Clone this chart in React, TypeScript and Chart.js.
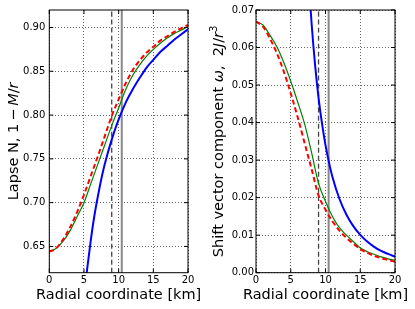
import React, { useEffect, useRef } from "react";
import { Chart, registerables } from "chart.js";

Chart.register(...registerables);

// ---------- data ----------
const radius = [0, 1, 2, 3, 4, 5, 6, 7, 8, 9, 10, 11, 12, 13, 14, 15, 16, 17, 18, 19, 20];
const lapseNumeric = [0.644, 0.648, 0.656, 0.668, 0.684, 0.7, 0.722, 0.744, 0.766, 0.788, 0.808, 0.829, 0.845, 0.857, 0.867, 0.875, 0.882, 0.888, 0.893, 0.897, 0.901];
const lapseApprox = [0.644, 0.648, 0.658, 0.672, 0.689, 0.709, 0.731, 0.753, 0.776, 0.799, 0.818, 0.836, 0.851, 0.862, 0.871, 0.878, 0.885, 0.89, 0.895, 0.899, 0.903];
const exteriorLapseRadius = [5.25, 5.5, 6, 6.5, 7, 7.5, 8, 9, 10, 11, 12, 13, 14, 15, 16, 17, 18, 19, 20];
const exteriorLapse = [0.61, 0.627, 0.658, 0.685, 0.707, 0.727, 0.744, 0.772, 0.795, 0.814, 0.829, 0.842, 0.854, 0.863, 0.872, 0.879, 0.886, 0.892, 0.898];

const shiftNumeric = [0.0669, 0.066, 0.0633, 0.0602, 0.056, 0.051, 0.0455, 0.0396, 0.032, 0.0238, 0.019, 0.015, 0.012, 0.01, 0.0083, 0.0066, 0.0056, 0.0049, 0.0042, 0.0037, 0.0033];
const shiftApprox = [0.0669, 0.0656, 0.0624, 0.0585, 0.0536, 0.0478, 0.0414, 0.0345, 0.0276, 0.0206, 0.0168, 0.0137, 0.0112, 0.0093, 0.0077, 0.0063, 0.0053, 0.0045, 0.0039, 0.0034, 0.0029];
const exteriorShiftRadius = [7.7, 8, 8.5, 9, 9.5, 10, 10.5, 11, 12, 13, 14, 15, 16, 17, 18, 19, 20];
const exteriorShift = [0.0745, 0.0664, 0.0554, 0.0466, 0.0397, 0.034, 0.0294, 0.0255, 0.0197, 0.0155, 0.0124, 0.0101, 0.0083, 0.0069, 0.0058, 0.005, 0.0043];

const dashedMarker = 9.0;
const solidMarker = 10.45;

const radiusRange = [0, 20];
const lapseRange = [0.62, 0.92];
const shiftRange = [0, 0.07];
const radiusTicks = [0, 5, 10, 15, 20];
const lapseTicks = [0.65, 0.7, 0.75, 0.8, 0.85, 0.9];
const shiftTicks = [0, 0.01, 0.02, 0.03, 0.04, 0.05, 0.06, 0.07];

const xTitle = "Radial coordinate [km]";
type Seg = { text: string; italic?: boolean; sup?: boolean };
const lapseTitle: Seg[] = [
  { text: "Lapse N, " },
  { text: "1\u2009\u2212\u2009" },
  { text: "M", italic: true },
  { text: "/" },
  { text: "r", italic: true },
];
const shiftTitle: Seg[] = [
  { text: "Shift vector component " },
  { text: "\u03c9", italic: true },
  { text: ",  2" },
  { text: "J", italic: true },
  { text: "/" },
  { text: "r", italic: true },
  { text: "3", sup: true },
];

const FONT = '"DejaVu Sans"';

const paperPlugin = {
  id: "paper",
  afterDraw(chart: any, _args: any, opts: any) {
    const { ctx, chartArea } = chart;
    const { left, right, top, bottom } = chartArea;
    const xs = chart.scales.x;
    const ys = chart.scales.y;
    ctx.save();
    // frame
    ctx.strokeStyle = "#000";
    ctx.lineWidth = 1;
    ctx.strokeRect(left, top, right - left, bottom - top);
    // inward ticks on all sides
    ctx.beginPath();
    for (const t of xs.ticks) {
      const px = xs.getPixelForValue(t.value);
      ctx.moveTo(px, bottom);
      ctx.lineTo(px, bottom - 4);
      ctx.moveTo(px, top);
      ctx.lineTo(px, top + 4);
    }
    for (const t of ys.ticks) {
      const py = ys.getPixelForValue(t.value);
      ctx.moveTo(left, py);
      ctx.lineTo(left + 4, py);
      ctx.moveTo(right, py);
      ctx.lineTo(right - 4, py);
    }
    ctx.stroke();

    const size = opts.titleSize || 14.5;
    ctx.fillStyle = "#000";
    ctx.textBaseline = "alphabetic";
    // x title
    ctx.font = `${size}px ${FONT}`;
    ctx.textAlign = "center";
    ctx.fillText(opts.xTitle, (left + right) / 2, opts.xTitleY);
    // y title (rotated, mixed fonts)
    ctx.textAlign = "left";
    const segs: Seg[] = opts.yTitle;
    const fonts = segs.map((s) => {
      const f = `${s.italic ? "italic " : ""}${s.sup ? size * 0.7 : size}px ${FONT}`;
      ctx.font = f;
      return { f, w: ctx.measureText(s.text).width };
    });
    const total = fonts.reduce((a, b) => a + b.w, 0);
    ctx.translate(opts.yTitleX, (top + bottom) / 2);
    ctx.rotate(-Math.PI / 2);
    let x = -total / 2;
    segs.forEach((s, i) => {
      ctx.font = fonts[i].f;
      ctx.fillText(s.text, x, s.sup ? -size * 0.38 : 0);
      x += fonts[i].w;
    });
    ctx.restore();
  },
};

function pts(xs: number[], ys: number[]) {
  return xs.map((x, i) => ({ x, y: ys[i] }));
}

function buildConfig(p: {
  numeric: number[];
  approx: number[];
  extR: number[];
  ext: number[];
  yRange: number[];
  yTicks: number[];
  yTitle: Seg[];
  axisLeft: number;
  padRight: number;
  labelPad: number;
}) {
  const tickFont = { family: FONT, size: 10 };
  const gridOpts = { color: "rgba(0,0,0,0.6)", lineWidth: 1, drawTicks: false };
  const line = { pointRadius: 0, fill: false, cubicInterpolationMode: "monotone", clip: 0 };
  return {
    type: "line",
    data: {
      datasets: [
        { ...line, data: pts(radius, p.approx), borderColor: "#ff0000", borderWidth: 2, borderDash: [5, 3], order: 0 },
        { ...line, data: pts(radius, p.numeric), borderColor: "#008000", borderWidth: 1.2, order: 1 },
        { ...line, data: pts(p.extR, p.ext), borderColor: "#0000ff", borderWidth: 2, order: 2 },
        {
          ...line,
          data: [
            { x: dashedMarker, y: p.yRange[0] },
            { x: dashedMarker, y: p.yRange[1] },
          ],
          borderColor: "#444444",
          borderWidth: 1.3,
          borderDash: [5, 3],
          order: 3,
        },
        {
          ...line,
          data: [
            { x: solidMarker, y: p.yRange[0] },
            { x: solidMarker, y: p.yRange[1] },
          ],
          borderColor: "#888888",
          borderWidth: 2,
          order: 4,
        },
      ],
    },
    options: {
      animation: false,
      responsive: false,
      events: [],
      layout: { padding: { left: 0, right: p.padRight, top: 10, bottom: 0 } },
      plugins: {
        legend: { display: false },
        tooltip: { enabled: false },
        paper: { xTitle, xTitleY: 299, yTitle: p.yTitle, yTitleX: 17.5, titleSize: 14.5 },
      },
      scales: {
        x: {
          type: "linear",
          min: radiusRange[0],
          max: radiusRange[1],
          afterBuildTicks: (s: any) => {
            s.ticks = radiusTicks.map((v) => ({ value: v }));
          },
          afterFit: (s: any) => {
            s.height = 36.3;
          },
          ticks: { font: tickFont, color: "#000", padding: 2, maxRotation: 0, autoSkip: false, callback: (v: any) => String(v) },
          grid: gridOpts,
          border: { display: false, dash: [1, 2] },
        },
        y: {
          type: "linear",
          min: p.yRange[0],
          max: p.yRange[1],
          afterBuildTicks: (s: any) => {
            s.ticks = p.yTicks.map((v) => ({ value: v }));
          },
          afterFit: (s: any) => {
            s.width = p.axisLeft;
          },
          ticks: { font: tickFont, color: "#000", padding: p.labelPad, autoSkip: false, callback: (v: any) => Number(v).toFixed(2) },
          grid: gridOpts,
          border: { display: false, dash: [1, 2] },
        },
      },
    },
    plugins: [paperPlugin],
  };
}

export default function App() {
  const leftRef = useRef<HTMLCanvasElement>(null);
  const rightRef = useRef<HTMLCanvasElement>(null);

  useEffect(() => {
    document.body.style.margin = "0";
    Chart.defaults.font.family = FONT;
    const c1 = new Chart(
      leftRef.current as HTMLCanvasElement,
      buildConfig({
        numeric: lapseNumeric,
        approx: lapseApprox,
        extR: exteriorLapseRadius,
        ext: exteriorLapse,
        yRange: lapseRange,
        yTicks: lapseTicks,
        yTitle: lapseTitle,
        axisLeft: 49.3,
        padRight: 17,
        labelPad: 4,
      }) as any
    );
    const c2 = new Chart(
      rightRef.current as HTMLCanvasElement,
      buildConfig({
        numeric: shiftNumeric,
        approx: shiftApprox,
        extR: exteriorShiftRadius,
        ext: exteriorShift,
        yRange: shiftRange,
        yTicks: shiftTicks,
        yTitle: shiftTitle,
        axisLeft: 51,
        padRight: 20,
        labelPad: 2,
      }) as any
    );
    return () => {
      c1.destroy();
      c2.destroy();
    };
  }, []);

  return (
    <div style={{ position: "relative", width: 415, height: 309, background: "#fff" }}>
      <canvas ref={leftRef} width={205} height={309} style={{ position: "absolute", left: 0, top: 0 }} />
      <canvas ref={rightRef} width={210} height={309} style={{ position: "absolute", left: 205, top: 0 }} />
    </div>
  );
}
